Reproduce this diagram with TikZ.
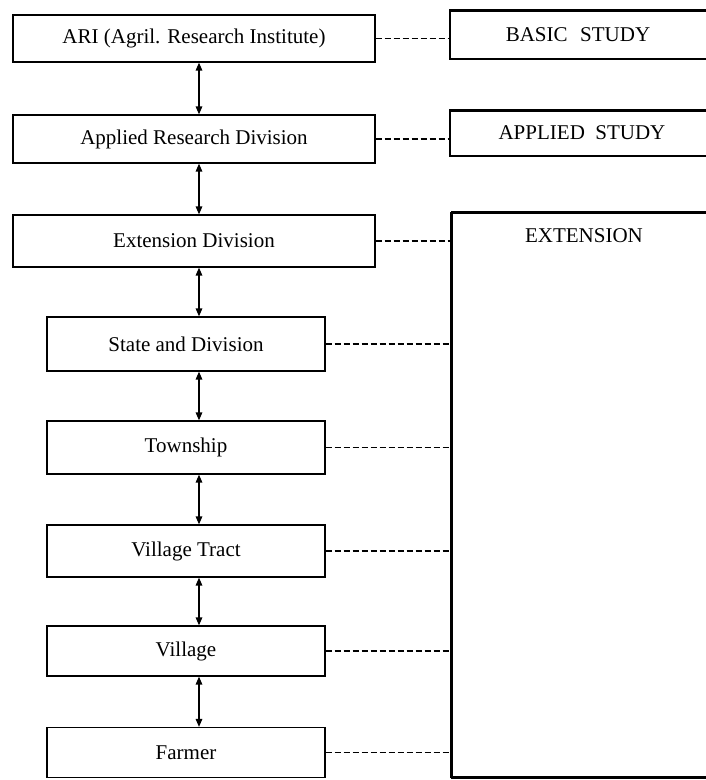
\documentclass[tikz,border=0pt]{standalone}
\usepackage{fontspec}
\setmainfont{Liberation Serif}
\usetikzlibrary{arrows.meta}
\begin{document}
\begin{tikzpicture}[x=1pt,y=-1pt,
  every node/.style={font=\fontsize{21}{25}\selectfont},
  unit/.style={draw, line width=1.2pt, inner sep=0pt, anchor=center},
  widebox/.style={unit, minimum width=362pt},
  narrowbox/.style={unit, minimum width=278pt},
  studybox/.style={draw, line width=1.5pt, inner sep=0pt, anchor=north west},
  link/.style={line width=1.1pt, dash pattern=on 6pt off 3pt},
  flow/.style={line width=1.4pt, {Triangle[length=8pt,width=6.5pt]}-{Triangle[length=8pt,width=6.5pt]}}]
  \useasboundingbox (0,0) rectangle (705,780);

  % hierarchy of offices
  \node[widebox, minimum height=47pt] (ari) at (194,38.5) {ARI (Agril. Research Institute)};
  \node[widebox, minimum height=48pt] (ard) at (194,139) {Applied Research Division};
  \node[widebox, minimum height=52pt] (exd) at (194,241) {Extension Division};
  \node[narrowbox, minimum height=54pt] (sad) at (186,344) {State and Division};
  \node[narrowbox, minimum height=53pt] (tsp) at (186,447.5) {Township};
  \node[narrowbox, minimum height=52pt] (vtr) at (186,551) {Village Tract};
  \node[narrowbox, minimum height=50pt] (vil) at (186,651) {Village};
  \node[narrowbox, minimum height=50pt] (frm) at (186,752.5) {Farmer};

  % fields of work on the right
  \node[studybox, minimum width=265pt, minimum height=48pt] (basic) at (449,10) {};
  \node[studybox, minimum width=265pt, minimum height=45pt] (applied) at (449,110) {};
  \node[studybox, minimum width=263pt, minimum height=564pt] (ext) at (451,212) {};
  % heavier ruled top and bottom edges
  \draw[line width=2.4pt] (basic.north west) -- (basic.north east);
  \draw[line width=2.4pt] (applied.north west) -- (applied.north east);
  \draw[line width=2.4pt] (ext.north west) -- (ext.north east);
  \draw[line width=2.4pt] (ext.south west) -- (ext.south east);
  \draw[line width=2pt] (ext.north west) -- (ext.south west);
  \node (basictxt) at (578,35) {BASIC\hspace{0.6em}STUDY};
  \node (appliedtxt) at (582,133) {APPLIED\hspace{0.5em}STUDY};
  \node (exttxt) at (584,236) {EXTENSION};

  % vertical links between levels
  \coordinate (axis) at (199,0);
  \foreach \a/\b in {ari/ard, ard/exd, exd/sad, sad/tsp, tsp/vtr, vtr/vil, vil/frm}
    \draw[flow] (\a.south -| axis) -- (\b.north -| axis);

  % dashed links to the fields of work
  \draw[link] (ari.east) -- (basic.west |- ari.east);
  \draw[link] (ard.east) -- (applied.west |- ard.east);
  \foreach \n in {exd, sad, tsp, vtr, vil, frm}
    \draw[link] (\n.east) -- (ext.west |- \n.east);
\end{tikzpicture}
\end{document}
